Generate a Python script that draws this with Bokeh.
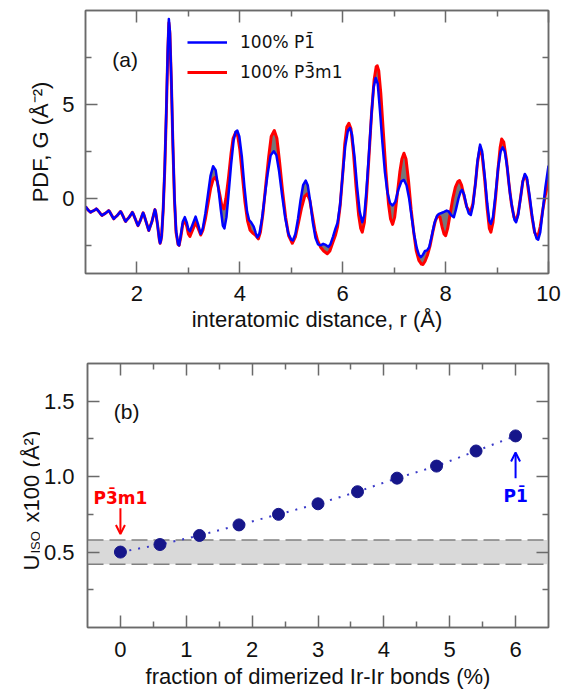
import math
from bokeh.plotting import figure
from bokeh.layouts import column, row
from bokeh.models import (Range1d, FixedTicker, LinearAxis, Legend, LegendItem, Label,
                          Arrow, OpenHead, BoxAnnotation, Span, PrintfTickFormatter)
from bokeh.embed import file_html
from bokeh.resources import INLINE

FONT = "Liberation Sans"
MFONT = "DejaVu Sans"  # font with proper combining-macron placement

# ---------------- data: panel (a) PDF curves (r in Å, G in Å^-2) ----------------
pdf_common = [(1.00, -0.44), (1.05, -0.62), (1.085, -0.71), (1.10, -0.74), (1.115, -0.71),
              (1.155, -0.66), (1.195, -0.59), (1.21, -0.56), (1.225, -0.59), (1.265, -0.72),
              (1.305, -0.87), (1.32, -0.91), (1.335, -0.88), (1.385, -0.80), (1.435, -0.69),
              (1.45, -0.65), (1.465, -0.69), (1.50, -0.86), (1.535, -1.03), (1.55, -1.09),
              (1.565, -1.04), (1.615, -0.92), (1.665, -0.75), (1.68, -0.70), (1.695, -0.75),
              (1.73, -0.95), (1.765, -1.16), (1.78, -1.23), (1.795, -1.17), (1.845, -1.02),
              (1.895, -0.81), (1.91, -0.74), (1.925, -0.81), (1.965, -1.08), (2.005, -1.36),
              (2.02, -1.45), (2.035, -1.37), (2.07, -1.15), (2.105, -0.87), (2.12, -0.77),
              (2.135, -0.87), (2.175, -1.22), (2.215, -1.58), (2.23, -1.71), (2.245, -1.59),
              (2.29, -1.25), (2.335, -0.75), (2.35, -0.60), (2.365, -0.75), (2.40, -1.40),
              (2.435, -2.20), (2.45, -2.39), (2.465, -2.25)]

pdf_blue = [(2.48, -2.0), (2.51, -0.6), (2.54, 1.6), (2.57, 4.6), (2.60, 8.0), (2.62, 9.55),
            (2.64, 8.9), (2.67, 6.2), (2.70, 2.8), (2.73, 0.0), (2.76, -1.7), (2.80, -2.45),
            (2.82, -2.5), (2.85, -2.0), (2.89, -1.25), (2.93, -1.0), (2.97, -1.3), (3.00, -1.65),
            (3.03, -1.75), (3.08, -1.4), (3.14, -0.97), (3.19, -1.4), (3.24, -1.89), (3.28, -1.6),
            (3.33, -0.8), (3.38, 0.2), (3.43, 1.2), (3.48, 1.71), (3.53, 1.5), (3.58, 0.6),
            (3.63, -0.6), (3.67, -1.45), (3.70, -1.60), (3.74, -1.0), (3.78, 0.2), (3.83, 1.8),
            (3.88, 3.1), (3.92, 3.55), (3.95, 3.61), (3.99, 3.3), (4.04, 2.2), (4.09, 0.6),
            (4.14, -0.7), (4.18, -1.15), (4.22, -1.28), (4.27, -1.5), (4.31, -1.85), (4.34, -2.07),
            (4.38, -1.9), (4.43, -1.1), (4.48, 0.0), (4.54, 1.3), (4.60, 2.3), (4.66, 2.51),
            (4.71, 2.3), (4.76, 1.5), (4.82, 0.2), (4.88, -1.0), (4.94, -1.85), (5.00, -2.2),
            (5.03, -2.24), (5.08, -1.9), (5.13, -1.1), (5.18, -0.1), (5.23, 0.7), (5.28, 0.95),
            (5.32, 0.7), (5.37, -0.2), (5.42, -1.3), (5.47, -2.1), (5.52, -2.45), (5.57, -2.5),
            (5.62, -2.42), (5.67, -2.48), (5.72, -2.58), (5.76, -2.45), (5.81, -2.05), (5.86, -1.6),
            (5.90, -1.3), (5.95, -0.3), (6.00, 1.3), (6.05, 2.8), (6.10, 3.6), (6.14, 3.75),
            (6.18, 3.4), (6.23, 2.2), (6.28, 0.6), (6.33, -0.7), (6.38, -1.27), (6.42, -0.9),
            (6.46, 0.4), (6.51, 2.4), (6.56, 4.5), (6.60, 5.9), (6.64, 6.41), (6.68, 6.1),
            (6.72, 4.8), (6.77, 3.0), (6.82, 1.4), (6.87, 0.3), (6.92, -0.25), (6.97, -0.38),
            (7.02, -0.2), (7.08, 0.45), (7.14, 0.9), (7.19, 0.98), (7.24, 0.7), (7.29, 0.0),
            (7.34, -1.0), (7.39, -1.95), (7.44, -2.65), (7.48, -3.0), (7.52, -3.13), (7.56, -3.0),
            (7.60, -2.8), (7.64, -2.77), (7.68, -2.6), (7.73, -2.0), (7.78, -1.35), (7.83, -0.95),
            (7.87, -0.83), (7.92, -0.78), (7.97, -0.72), (8.02, -0.65), (8.06, -0.7), (8.11, -0.9),
            (8.16, -1.0), (8.20, -0.6), (8.25, 0.0), (8.29, 0.35), (8.32, 0.45), (8.36, 0.2),
            (8.41, -0.45), (8.45, -0.8), (8.49, -0.88), (8.53, -0.4), (8.58, 0.8), (8.62, 2.0),
            (8.67, 2.86), (8.71, 2.5), (8.76, 1.2), (8.81, -0.3), (8.85, -1.2), (8.88, -1.36),
            (8.92, -1.0), (8.97, 0.2), (9.02, 1.6), (9.07, 2.5), (9.11, 2.72), (9.15, 2.5),
            (9.20, 1.6), (9.25, 0.3), (9.30, -0.6), (9.34, -1.15), (9.37, -1.27), (9.41, -0.9),
            (9.46, 0.1), (9.50, 0.9), (9.54, 1.30), (9.58, 1.1), (9.63, 0.2), (9.68, -0.9),
            (9.73, -1.8), (9.77, -2.15), (9.80, -2.2), (9.84, -1.8), (9.89, -0.6), (9.94, 0.6),
            (10.00, 1.74)]

pdf_red = [(2.48, -2.0), (2.51, -0.6), (2.54, 1.5), (2.57, 4.4), (2.60, 7.8), (2.62, 9.35),
           (2.64, 8.8), (2.67, 6.1), (2.70, 2.7), (2.73, -0.1), (2.76, -1.8), (2.80, -2.45),
           (2.82, -2.5), (2.85, -2.1), (2.89, -1.4), (2.93, -1.12), (2.97, -1.5), (3.00, -1.9),
           (3.03, -2.03), (3.08, -1.7), (3.14, -1.27), (3.19, -1.6), (3.24, -1.95), (3.28, -1.7),
           (3.33, -1.1), (3.38, -0.3), (3.43, 0.5), (3.48, 1.0), (3.52, 1.12), (3.56, 0.9),
           (3.61, 0.2), (3.65, -0.4), (3.69, -0.56), (3.73, 0.0), (3.78, 1.1), (3.83, 2.4),
           (3.87, 3.2), (3.92, 3.52), (3.96, 3.3), (4.00, 2.6), (4.05, 1.2), (4.10, -0.2),
           (4.15, -1.2), (4.20, -1.7), (4.25, -1.85), (4.30, -1.95), (4.36, -2.16), (4.40, -1.8),
           (4.45, -0.8), (4.50, 0.6), (4.56, 2.2), (4.61, 3.3), (4.67, 3.61), (4.72, 3.2),
           (4.77, 2.0), (4.83, 0.4), (4.89, -1.0), (4.95, -2.0), (5.02, -2.39), (5.08, -2.05),
           (5.14, -1.3), (5.20, -0.5), (5.26, 0.1), (5.31, 0.24), (5.36, -0.1), (5.41, -0.9),
           (5.46, -1.7), (5.51, -2.24), (5.57, -2.6), (5.63, -2.8), (5.70, -2.95), (5.75, -2.8),
           (5.80, -2.4), (5.86, -1.95), (5.90, -1.5), (5.95, -0.4), (6.00, 1.3), (6.04, 2.9),
           (6.08, 3.8), (6.12, 4.0), (6.16, 3.7), (6.21, 2.4), (6.26, 0.6), (6.31, -0.9),
           (6.35, -1.6), (6.38, -1.80), (6.42, -1.3), (6.46, 0.0), (6.51, 2.2), (6.56, 4.5),
           (6.61, 6.3), (6.65, 7.0), (6.67, 7.06), (6.70, 6.8), (6.74, 5.6), (6.79, 3.5),
           (6.84, 1.4), (6.89, -0.3), (6.93, -1.1), (6.97, -1.39), (7.01, -1.0), (7.06, 0.2),
           (7.11, 1.4), (7.15, 2.1), (7.19, 2.40), (7.23, 2.1), (7.28, 0.9), (7.33, -0.6),
           (7.38, -1.8), (7.43, -2.8), (7.48, -3.3), (7.53, -3.5), (7.56, -3.52), (7.60, -3.35),
           (7.65, -3.0), (7.70, -2.5), (7.75, -1.8), (7.80, -1.2), (7.85, -0.9), (7.89, -1.0),
           (7.93, -1.5), (7.97, -1.9), (8.00, -1.99), (8.04, -1.6), (8.09, -0.8), (8.14, 0.0),
           (8.19, 0.6), (8.24, 0.9), (8.27, 0.95), (8.31, 0.7), (8.36, 0.1), (8.41, -0.45),
           (8.45, -0.62), (8.49, -0.66), (8.53, -0.3), (8.58, 0.8), (8.62, 1.9), (8.67, 2.72),
           (8.71, 2.3), (8.76, 1.0), (8.81, -0.6), (8.85, -1.6), (8.88, -1.80), (8.92, -1.3),
           (8.97, 0.0), (9.02, 1.6), (9.06, 2.7), (9.09, 3.16), (9.13, 3.0), (9.18, 2.1),
           (9.23, 0.8), (9.28, -0.3), (9.33, -1.0), (9.37, -1.18), (9.41, -0.8), (9.46, 0.1),
           (9.50, 0.9), (9.54, 1.21), (9.58, 1.0), (9.63, 0.0), (9.68, -1.0), (9.73, -1.8),
           (9.77, -2.0), (9.80, -1.95), (9.84, -1.5), (9.89, -0.6), (9.94, 0.2), (10.00, 0.97)]

# ---------------- data: panel (b) Uiso ----------------
frac_dimer = [0.0, 0.6, 1.2, 1.8, 2.4, 3.0, 3.6, 4.2, 4.8, 5.4, 6.0]
u_iso = [0.50, 0.55, 0.61, 0.68, 0.75, 0.82, 0.90, 0.99, 1.07, 1.17, 1.27]
band_low, band_high = 0.42, 0.58

label_blue = "100% P1\u0304"
label_red = "100% P3\u0304m1"

r_blue = [a for a, _ in pdf_common + pdf_blue]
g_blue = [b for _, b in pdf_common + pdf_blue]
r_red = [a for a, _ in pdf_common + pdf_red]
g_red = [b for _, b in pdf_common + pdf_red]

AXC = "#6a6a6a"


def style_axis(ax, ticks, minor, labels, size="22px", standoff=12):
    ax.ticker = FixedTicker(ticks=ticks, minor_ticks=minor)
    ax.major_tick_in = 12
    ax.major_tick_out = 0
    ax.minor_tick_in = 6
    ax.minor_tick_out = 0
    ax.axis_line_color = AXC
    ax.axis_line_width = 1.5
    ax.major_tick_line_color = AXC
    ax.major_tick_line_width = 1.5
    ax.minor_tick_line_color = AXC
    ax.minor_tick_line_width = 1.5
    ax.major_label_text_font = FONT
    ax.major_label_text_color = "#111111"
    ax.major_label_text_font_size = size
    if labels:
        ax.major_label_standoff = standoff
    else:
        ax.major_label_overrides = {t: "" for t in ticks}
        ax.major_label_standoff = 0
    ax.axis_label_text_font = FONT
    ax.axis_label_text_font_style = "normal"
    ax.axis_label_text_font_size = "22px"
    ax.axis_label_text_color = "#111111"


def frame_axes(p, xt, xm, yt, ym, yfmt=None, xstand=12, ystand=12):
    bx = p.below[0]
    ly = p.left[0]
    style_axis(bx, xt, xm, True, standoff=xstand)
    style_axis(ly, yt, ym, True, standoff=ystand)
    if yfmt:
        ly.formatter = PrintfTickFormatter(format=yfmt)
    top = LinearAxis()
    right = LinearAxis()
    style_axis(top, xt, xm, False)
    style_axis(right, yt, ym, False)
    p.add_layout(top, "above")
    p.add_layout(right, "right")
    p.outline_line_color = AXC
    p.outline_line_width = 1.5
    p.xgrid.visible = False
    p.ygrid.visible = False
    return bx, ly


# ---------------- panel (a) ----------------
pa = figure(width=569, height=340, output_backend="svg", toolbar_location=None,
            x_range=Range1d(1, 10), y_range=Range1d(-4, 10),
            min_border_left=85, min_border_right=21, min_border_top=10, min_border_bottom=67)
ax_b, ax_l = frame_axes(pa, [2, 4, 6, 8, 10], [3, 5, 7, 9], [0, 5], [-2.5, 2.5, 7.5],
                        xstand=12, ystand=11)
ax_b.axis_label = "interatomic distance, r (\u00c5)"
ax_b.axis_label_standoff = 3
ax_l.axis_label = "PDF, G (\u00c5\u207b\u00b2)"
ax_l.axis_label_standoff = 6

pa.patch(x=r_blue + r_red[::-1], y=g_blue + g_red[::-1], fill_color="#777777",
         line_color=None)
red = pa.line(r_red, g_red, line_color="#ff0000", line_width=3, line_join="round")
blue = pa.line(r_blue, g_blue, line_color="#0000ff", line_width=2.5, line_join="round")

leg = Legend(items=[LegendItem(label=label_blue, renderers=[blue]),
                    LegendItem(label=label_red, renderers=[red])],
             location=(102, 186), margin=0, padding=0, spacing=0,
             label_height=30, glyph_height=30, glyph_width=40, label_standoff=13,
             label_text_font=MFONT, label_text_font_size="17px", label_text_color="#111111",
             background_fill_alpha=0, border_line_alpha=0)
pa.add_layout(leg)
pa.add_layout(Label(x=1.52, y=7.4, text="(a)", text_font=FONT, text_font_size="21px",
                    text_baseline="middle", text_color="#111111"))

# ---------------- panel (b) ----------------
pb = figure(width=529, height=352, output_backend="svg", toolbar_location=None,
            x_range=Range1d(-0.5, 6.5), y_range=Range1d(0, 1.75),
            min_border_left=45, min_border_right=21, min_border_top=23, min_border_bottom=65)
bx_b, bx_l = frame_axes(pb, [0, 1, 2, 3, 4, 5, 6], [0.5, 1.5, 2.5, 3.5, 4.5, 5.5],
                        [0.5, 1.0, 1.5], [0.25, 0.75, 1.25], yfmt="%.1f", xstand=14, ystand=13)
bx_b.axis_label = "fraction of dimerized Ir-Ir bonds (%)"
bx_b.axis_label_standoff = 4

pb.add_layout(BoxAnnotation(bottom=band_low, top=band_high, fill_color="#d9d9d9",
                            fill_alpha=1.0, line_color=None, level="underlay"))
for v in (band_low, band_high):
    pb.add_layout(Span(location=v, dimension="width", line_color="#808080",
                       line_width=1.5, line_dash="16 6", level="underlay"))

pb.line(frac_dimer, u_iso, line_color="#3a3ac8", line_width=2, line_dash="2 7")
pb.scatter(frac_dimer, u_iso, size=12, fill_color="#16168a", line_color="#16168a")

pb.add_layout(Label(x=-0.1, y=1.43, text="(b)", text_font=FONT, text_font_size="21px",
                    text_baseline="middle", text_color="#111111"))
pb.add_layout(Label(x=0, y=0.86, text="P3\u0304m1", text_font=MFONT, text_font_size="17px",
                    text_font_style="bold", text_color="#ff0000", text_align="center",
                    text_baseline="middle"))
pb.add_layout(Arrow(end=OpenHead(size=9, line_color="#ff0000", line_width=2),
                    x_start=0, y_start=0.79, x_end=0, y_end=0.62,
                    line_color="#ff0000", line_width=2))
pb.add_layout(Label(x=6, y=0.87, text="P1\u0304", text_font=MFONT, text_font_size="17px",
                    text_font_style="bold", text_color="#0000ff", text_align="center",
                    text_baseline="middle"))
pb.add_layout(Arrow(end=OpenHead(size=9, line_color="#0000ff", line_width=2),
                    x_start=6, y_start=0.99, x_end=6, y_end=1.16,
                    line_color="#0000ff", line_width=2))

# y-axis label of panel (b) with subscript: a narrow text strip left of the panel.
# Its frame lines up with panel (b)'s frame, so it shares the same y range.
lab = figure(width=40, height=352, output_backend="svg", toolbar_location=None,
             x_range=Range1d(0, 40), y_range=Range1d(0, 1.75),
             x_axis_type=None, y_axis_type=None,
             min_border_left=0, min_border_right=0, min_border_top=23, min_border_bottom=65)
lab.outline_line_color = None
lab.xgrid.visible = False
lab.ygrid.visible = False
ang = math.pi / 2
for txt, xs, ys, fs in [("U", 31, 0.378, "22px"), ("ISO", 35, 0.49, "13px"),
                        ("x100", 31, 0.696, "22px"), ("(\u00c5\u00b2)", 31, 1.061, "22px")]:
    lab.add_layout(Label(x=xs, y=ys, text=txt, angle=ang, text_font=FONT,
                         text_font_size=fs, text_color="#111111", text_align="left",
                         text_baseline="alphabetic"))

for p in (pa, pb, lab):
    p.background_fill_color = "white"
    p.border_fill_color = "white"

layout = column(pa, row(lab, pb, spacing=0), spacing=0)
open("out.html", "w").write(file_html(layout, INLINE))
